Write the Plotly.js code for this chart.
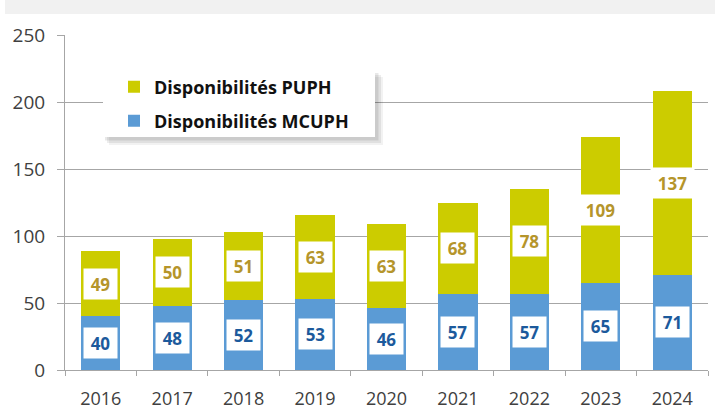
<!DOCTYPE html>
<html><head><meta charset="utf-8">
<script src="https://cdn.plot.ly/plotly-3.0.1.min.js"></script>
<style>html,body{margin:0;padding:0;background:#fff}#chart{width:715px;height:413px}</style>
</head><body><div id="chart"></div>
<script>
const years = ['2016','2017','2018','2019','2020','2021','2022','2023','2024'];
const mcuph = [40,48,52,53,46,57,57,65,71];
const puph = [49,50,51,63,63,68,78,109,137];
const yTicks = [0,50,100,150,200,250];
const seriesNames = ['Disponibilités MCUPH','Disponibilités PUPH'];

const BLUE = '#5b9bd5', YEL = '#cccc00';
const BLUE_TXT = '#1c5a9c', GOLD_TXT = '#b5952b';
const FONT = 'Open Sans, Liberation Sans, sans-serif';

const traces = [
  {type:'bar', x:years, y:mcuph, name:seriesNames[0], legend:'legend2',
   marker:{color:BLUE}, hoverinfo:'skip'},
  {type:'bar', x:years, y:puph, name:seriesNames[1], legend:'legend',
   marker:{color:YEL}, hoverinfo:'skip'}
];

const annotations = [];
years.forEach((yr,i)=>{
  annotations.push({x:i, y:mcuph[i]/2, xref:'x', yref:'y', showarrow:false,
    text:'<b>'+mcuph[i]+'</b>', font:{family:FONT,size:17,color:BLUE_TXT},
    bgcolor:'#ffffff', width:String(mcuph[i]).length>2?33:23, height:20, borderpad:5});
  annotations.push({x:i, y:mcuph[i]+puph[i]/2, xref:'x', yref:'y', showarrow:false,
    text:'<b>'+puph[i]+'</b>', font:{family:FONT,size:17,color:GOLD_TXT},
    bgcolor:'#ffffff', width:String(puph[i]).length>2?33:23, height:20, borderpad:5});
});

// pixel helpers for decorative paper-positioned shapes
const L=65, R=708, T=35, B=370;
const px = v => (v-L)/(R-L);
const py = v => (B-v)/(B-T);

const shapes = [
  {type:'rect', xref:'paper', yref:'paper', x0:px(5), x1:px(715), y0:py(14), y1:py(0),
   fillcolor:'#f1f1f1', line:{width:0}, layer:'below'},
  // legend shadow (soft)
  {type:'rect', xref:'paper', yref:'paper', x0:px(109), x1:px(383), y0:py(145), y1:py(77),
   fillcolor:'rgba(0,0,0,0.05)', line:{width:0}, layer:'above'},
  {type:'rect', xref:'paper', yref:'paper', x0:px(107), x1:px(381), y0:py(143), y1:py(75),
   fillcolor:'rgba(0,0,0,0.07)', line:{width:0}, layer:'above'},
  {type:'rect', xref:'paper', yref:'paper', x0:px(105), x1:px(378.5), y0:py(140.5), y1:py(73),
   fillcolor:'rgba(0,0,0,0.09)', line:{width:0}, layer:'above'},
  {type:'rect', xref:'paper', yref:'paper', x0:px(103), x1:px(375), y0:py(137), y1:py(70),
   fillcolor:'#ffffff', line:{width:0}, layer:'above'}
];

const legFont = {family:FONT, size:18, color:'#111111', weight:'bold'};
const layout = {
  width:715, height:413,
  margin:{l:L, r:715-R, t:T, b:413-B},
  paper_bgcolor:'#ffffff', plot_bgcolor:'#ffffff',
  barmode:'stack', bargap:0.45,
  font:{family:FONT, color:'#404040'},
  showlegend:true,
  legend:{x:px(114), y:py(87), xanchor:'left', yanchor:'middle',
    bgcolor:'rgba(0,0,0,0)', borderwidth:0, font:legFont},
  legend2:{x:px(114), y:py(121), xanchor:'left', yanchor:'middle',
    bgcolor:'rgba(0,0,0,0)', borderwidth:0, font:legFont},
  xaxis:{type:'category', tickson:'boundaries', ticks:'outside', ticklen:5,
    tickcolor:'#a6a6a6', showline:true, linecolor:'#a6a6a6', linewidth:1,
    showgrid:false, tickfont:{family:FONT, size:18, color:'#404040'},
    ticklabelstandoff:12, fixedrange:true},
  yaxis:{range:[0,250], tickvals:yTicks, ticktext:yTicks.map(String),
    ticks:'outside', ticklen:7, tickcolor:'#a6a6a6',
    showline:true, linecolor:'#a6a6a6', linewidth:1,
    showgrid:true, gridcolor:'#a6a6a6', gridwidth:1, zeroline:false,
    tickfont:{family:FONT, size:19, color:'#404040'},
    ticklabelstandoff:8, fixedrange:true},
  shapes:shapes,
  annotations:annotations
};

Plotly.newPlot('chart', traces, layout, {displayModeBar:false, staticPlot:true});
</script>
</body></html>
